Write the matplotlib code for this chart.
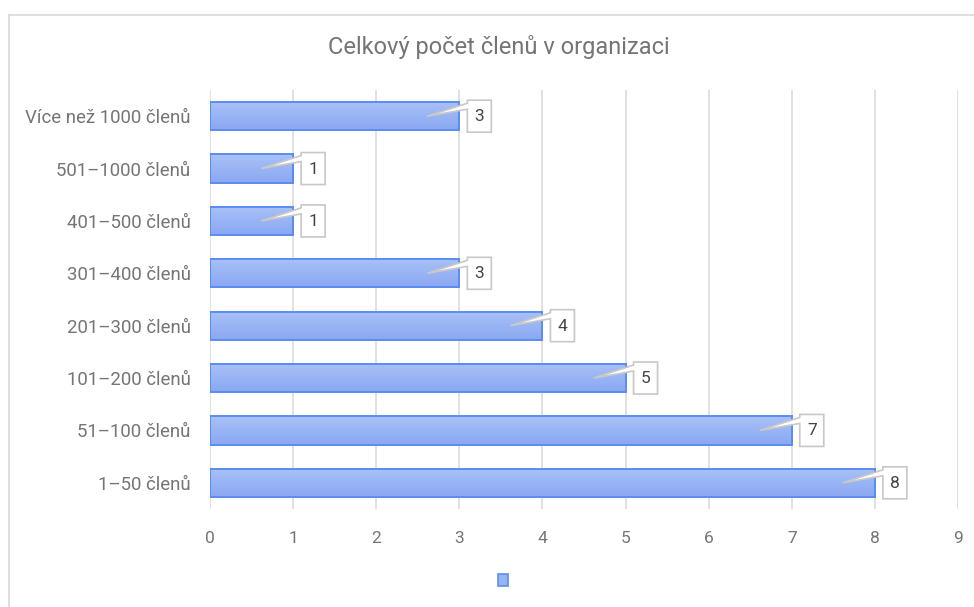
import matplotlib.pyplot as plt
import matplotlib.transforms as mtransforms
from matplotlib.patches import Polygon, Rectangle
from matplotlib.lines import Line2D
from matplotlib.colors import LinearSegmentedColormap
import numpy as np

plt.rcParams['font.family'] = ['Roboto', 'DejaVu Sans']

categories = ['1–50 členů', '51–100 členů', '101–200 členů', '201–300 členů',
              '301–400 členů', '401–500 členů', '501–1000 členů', 'Více než 1000 členů']
values = [8, 7, 5, 4, 3, 1, 1, 3]
x_ticks = list(range(0, 10))
title = 'Celkový počet členů v organizaci'

W, H = 974, 607
fig = plt.figure(figsize=(W / 100, H / 100), dpi=100)
# axes box in pixels: left 210, right 958, top 90, bottom 509
ax = fig.add_axes([210 / W, 1 - 509 / H, (958 - 210) / W, (509 - 90) / H])

text_col = '#757575'
edge_col = '#5a8cf0'
bar_h = 0.54

# gradient bars
grad = np.linspace(0, 1, 64).reshape(-1, 1)
cmap = LinearSegmentedColormap.from_list('barg', ['#a9c1f8', '#8aa8f2'])
for i, v in enumerate(values):
    ax.imshow(grad, cmap=cmap, aspect='auto', origin='upper',
              extent=[0, v, i - bar_h / 2, i + bar_h / 2], zorder=2)
    ax.add_patch(Rectangle((0, i - bar_h / 2), v, bar_h, facecolor='none',
                           edgecolor=edge_col, lw=1.4, zorder=3))

# callout labels (shape in pixels around bar end)
shape = np.array([(-32, 0), (8, 7), (8, -16), (32, -16), (32, 16), (8, 16), (8, 13)]) / 100.0
for i, v in enumerate(values):
    tr = fig.dpi_scale_trans + mtransforms.ScaledTranslation(v, i, ax.transData)
    ax.add_patch(Polygon(shape, closed=True, facecolor='white', edgecolor='#c8c8c8',
                         lw=1.2, transform=tr, zorder=4, clip_on=False))
    ax.text(0.20, -0.005, str(v), transform=tr, ha='center', va='center',
            fontsize=12.5, color='#444444', zorder=5)

ax.set_xlim(0, 9)
ax.set_ylim(-0.5, len(values) - 0.5)
ax.set_xticks(x_ticks)
ax.set_xticklabels([str(t) for t in x_ticks], fontsize=12.5, color=text_col)
ax.set_yticks(range(len(categories)))
ax.set_yticklabels(categories, fontsize=13.4, color=text_col)
ax.tick_params(axis='x', length=0, pad=16)
ax.tick_params(axis='y', length=0, pad=14)
ax.grid(axis='x', color='#dcdcdc', lw=1.2, zorder=0)
ax.set_axisbelow(True)
for s in ax.spines.values():
    s.set_visible(False)

fig.text(499 / W, 1 - 47 / H, title, ha='center', va='center', fontsize=17, color=text_col)

# legend swatch
fig.patches.append(Rectangle((498 / W, 1 - 586 / H), 10 / W, 12 / H, transform=fig.transFigure,
                             facecolor='#98b3f4', edgecolor=edge_col, lw=1.2))

# chart border
fig.add_artist(Line2D([8.5 / W, 8.5 / W], [0, 1 - 14.5 / H], color='#d9d9d9', lw=1.2))
fig.add_artist(Line2D([8.5 / W, 1], [1 - 14.5 / H, 1 - 14.5 / H], color='#d9d9d9', lw=1.2))

fig.savefig('out.png', dpi=100)
